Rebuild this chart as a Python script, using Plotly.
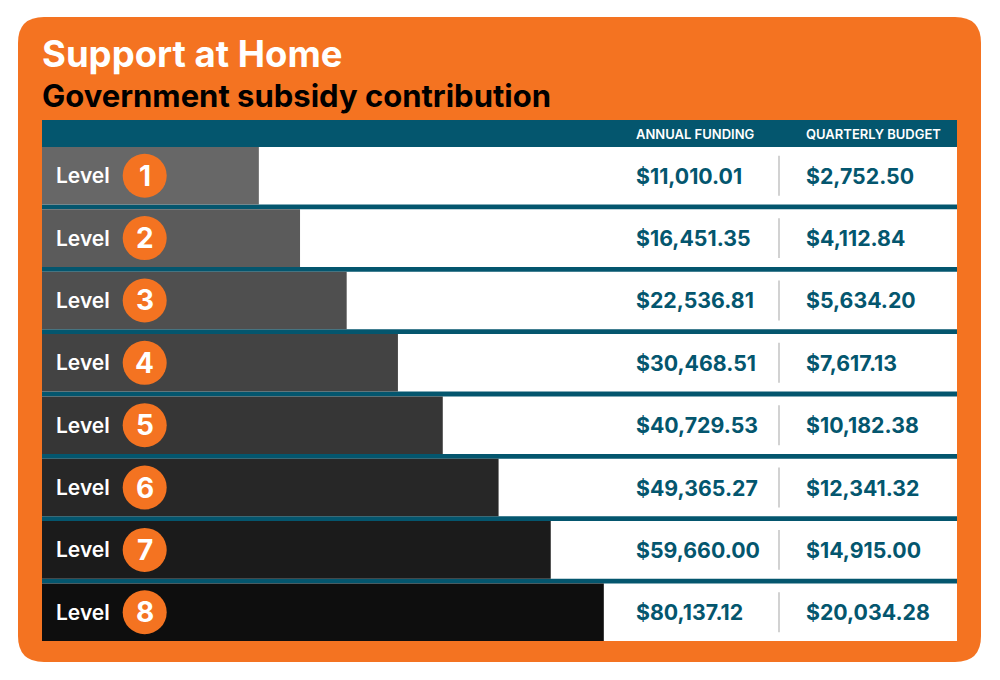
import plotly.graph_objects as go

W, H = 1000, 680
OFF = 8  # page body margin of the html page

# table data
levels = [1, 2, 3, 4, 5, 6, 7, 8]
annual_funding = ["$11,010.01", "$16,451.35", "$22,536.81", "$30,468.51",
                  "$40,729.53", "$49,365.27", "$59,660.00", "$80,137.12"]
quarterly_budget = ["$2,752.50", "$4,112.84", "$5,634.20", "$7,617.13",
                    "$10,182.38", "$12,341.32", "$14,915.00", "$20,034.28"]
# grey bar length, % of table width
bar_share = [23.7, 28.2, 33.3, 38.9, 43.8, 49.9, 55.6, 61.4]
bar_colors = ["#676767", "#5b5b5b", "#4f4f4f", "#434343",
              "#363636", "#272727", "#1b1b1b", "#0e0e0e"]
headers = ["ANNUAL FUNDING", "QUARTERLY BUDGET"]

ORANGE = "#f47321"
TEAL = "#04566e"
FONT = "Inter"

# table geometry in pixels
TBL_L, TBL_R = 42, 957
HEAD_T, ROWS_T, ROWS_B = 120, 147, 641
GAP = 0.077


def px(x):
    return (x - OFF) / W


def py(y):
    return 1 - (y - OFF) / H


def tx(x):
    # pixel x -> % of table width
    return (x - TBL_L) / (TBL_R - TBL_L) * 100


def rounded_rect(x0, y0, x1, y1, r):
    rx, ry = r / W, r / H
    a, b, c, d = px(x0), py(y0), px(x1), py(y1)
    return (f"M {a + rx},{b} L {c - rx},{b} Q {c},{b} {c},{b - ry} "
            f"L {c},{d + ry} Q {c},{d} {c - rx},{d} "
            f"L {a + rx},{d} Q {a},{d} {a},{d + ry} "
            f"L {a},{b - ry} Q {a},{b} {a + rx},{b} Z")


fig = go.Figure()

# white row backgrounds
fig.add_trace(go.Bar(x=[100] * len(levels), y=levels, orientation="h",
                     width=1 - GAP, marker=dict(color="white", line_width=0),
                     hoverinfo="skip", showlegend=False))
# grey level bars
fig.add_trace(go.Bar(x=bar_share, y=levels, orientation="h",
                     width=1 - GAP, marker=dict(color=bar_colors, line_width=0),
                     hoverinfo="skip", showlegend=False))
# orange level badges
fig.add_trace(go.Scatter(x=[tx(144.7)] * len(levels), y=levels, mode="markers",
                         marker=dict(size=44, color=ORANGE, line_width=0),
                         hoverinfo="skip", showlegend=False))

shapes = [
    dict(type="path", xref="paper", yref="paper", path=rounded_rect(18, 17, 981, 662, 26),
         fillcolor=ORANGE, line_width=0, layer="below"),
    dict(type="rect", xref="paper", yref="paper", x0=px(TBL_L), x1=px(TBL_R),
         y0=py(ROWS_B), y1=py(HEAD_T), fillcolor=TEAL, line_width=0, layer="below"),
]
annotations = [
    dict(text="Support at Home", xref="paper", yref="paper", x=px(40), y=py(54),
         xanchor="left", yanchor="middle", showarrow=False,
         font=dict(family=FONT, size=36.5, color="white", weight=700)),
    dict(text="Government subsidy contribution", xref="paper", yref="paper", x=px(40), y=py(95),
         xanchor="left", yanchor="middle", showarrow=False,
         font=dict(family=FONT, size=31, color="black", weight=700)),
]
for hx, h in zip([636, 806], headers):
    annotations.append(dict(text=h, xref="paper", yref="paper", x=px(hx - 2), y=py(134),
                            xanchor="left", yanchor="middle", showarrow=False,
                            font=dict(family=FONT, size=13, color="white", weight=600)))

for lv, a, q in zip(levels, annual_funding, quarterly_budget):
    annotations.append(dict(text="Level", xref="paper", yref="y", x=px(54), y=lv,
                            xanchor="left", yanchor="middle", showarrow=False,
                            font=dict(family=FONT, size=21, color="white", weight=600)))
    annotations.append(dict(text=str(lv), xref="x", yref="y", x=tx(144.7), y=lv,
                            xanchor="center", yanchor="middle", showarrow=False,
                            font=dict(family=FONT, size=28, color="white", weight=700)))
    annotations.append(dict(text=a, xref="x", yref="y", x=tx(634), y=lv,
                            xanchor="left", yanchor="middle", showarrow=False,
                            font=dict(family=FONT, size=21.3, color=TEAL, weight=700)))
    annotations.append(dict(text=q, xref="x", yref="y", x=tx(804), y=lv,
                            xanchor="left", yanchor="middle", showarrow=False,
                            font=dict(family=FONT, size=21.3, color=TEAL, weight=700)))
    shapes.append(dict(type="line", xref="x", yref="y", x0=tx(779), x1=tx(779),
                       y0=lv - 0.32, y1=lv + 0.32, line=dict(color="#d2d2d2", width=2)))

fig.update_layout(
    width=W, height=H,
    margin=dict(l=0, r=0, t=0, b=0),
    paper_bgcolor="white", plot_bgcolor="rgba(0,0,0,0)",
    barmode="overlay",
    xaxis=dict(domain=[px(TBL_L), px(TBL_R)], range=[0, 100], visible=False, fixedrange=True),
    yaxis=dict(domain=[py(ROWS_B), py(ROWS_T)], range=[8.5 - GAP / 2, 0.5 + GAP / 2],
               visible=False, fixedrange=True),
    shapes=shapes,
    annotations=annotations,
)

fig.write_html("out.html")
